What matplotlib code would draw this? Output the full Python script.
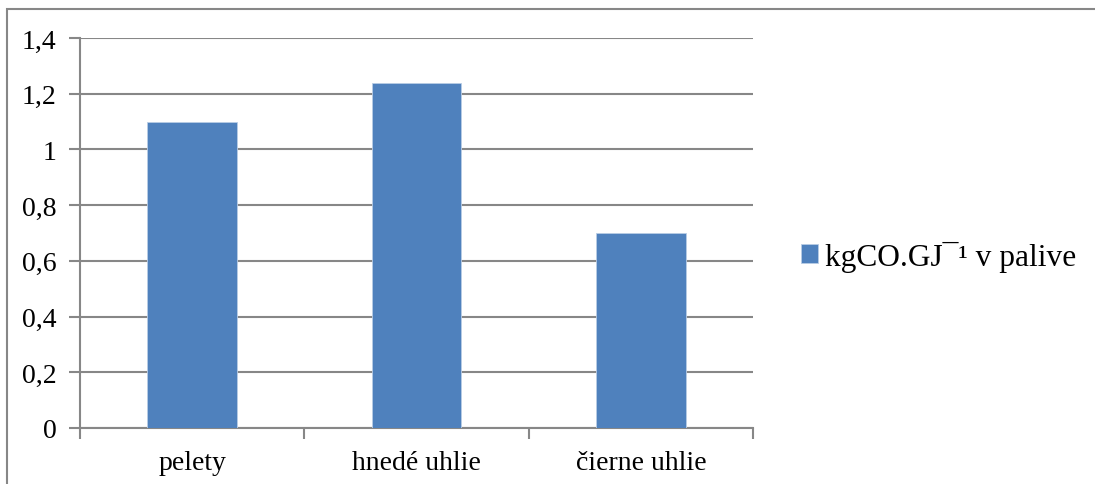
import matplotlib.pyplot as plt
from matplotlib.patches import Rectangle
import numpy as np

categories = ['pelety', 'hnedé uhlie', 'čierne uhlie']
values = [1.1, 1.24, 0.7]
y_ticks = [0, 0.2, 0.4, 0.6, 0.8, 1.0, 1.2, 1.4]
y_labels = ['0', '0,2', '0,4', '0,6', '0,8', '1', '1,2', '1,4']
series_name = 'kgCO.GJ\u00af\u00b9 v palive'

plt.rcParams['font.family'] = ['Liberation Serif', 'DejaVu Serif']
grey = '#878787'

fig = plt.figure(figsize=(10.95, 4.85), dpi=100)
ax = fig.add_axes([80 / 1095, 56 / 485, 673 / 1095, 390 / 485])

x = np.arange(len(categories))
ax.bar(x, values, width=0.4, color='#4F81BD', edgecolor='#B9CDE5',
       linewidth=0.6, label=series_name, zorder=3)

ax.set_xlim(-0.5, len(categories) - 0.5)
ax.set_ylim(0, 1.4)
ax.set_yticks(y_ticks)
ax.set_yticklabels(y_labels)
ax.yaxis.grid(True, color=grey, linewidth=1.5, zorder=0)

# category labels in the middle, tick marks on the boundaries
ax.set_xticks(x)
ax.set_xticklabels(categories)
ax.set_xticks(np.arange(-0.5, len(categories)), minor=True)
ax.tick_params(axis='x', which='major', length=0, pad=16, labelsize=20)
ax.tick_params(axis='x', which='minor', length=8, width=1.5, color=grey)
ax.tick_params(axis='y', length=8, width=1.5, color=grey, pad=9, labelsize=20)

for side in ['top', 'right']:
    ax.spines[side].set_visible(False)
for side in ['left', 'bottom']:
    ax.spines[side].set_color(grey)
    ax.spines[side].set_linewidth(1.5)

leg = fig.legend(loc='center left', bbox_to_anchor=(801 / 1095, 1 - 257 / 485),
                 frameon=False, fontsize=22.6, handlelength=0.55, handleheight=0.55,
                 handletextpad=0.2, borderpad=0, borderaxespad=0)

# chart frame, cut off at the right and bottom edges
fig.patches.append(Rectangle((7 / 1095, -0.1), 1.2, 1.1 - 9.5 / 485,
                             transform=fig.transFigure, fill=False,
                             edgecolor=grey, linewidth=1.5))

fig.savefig('out.png', dpi=100)
